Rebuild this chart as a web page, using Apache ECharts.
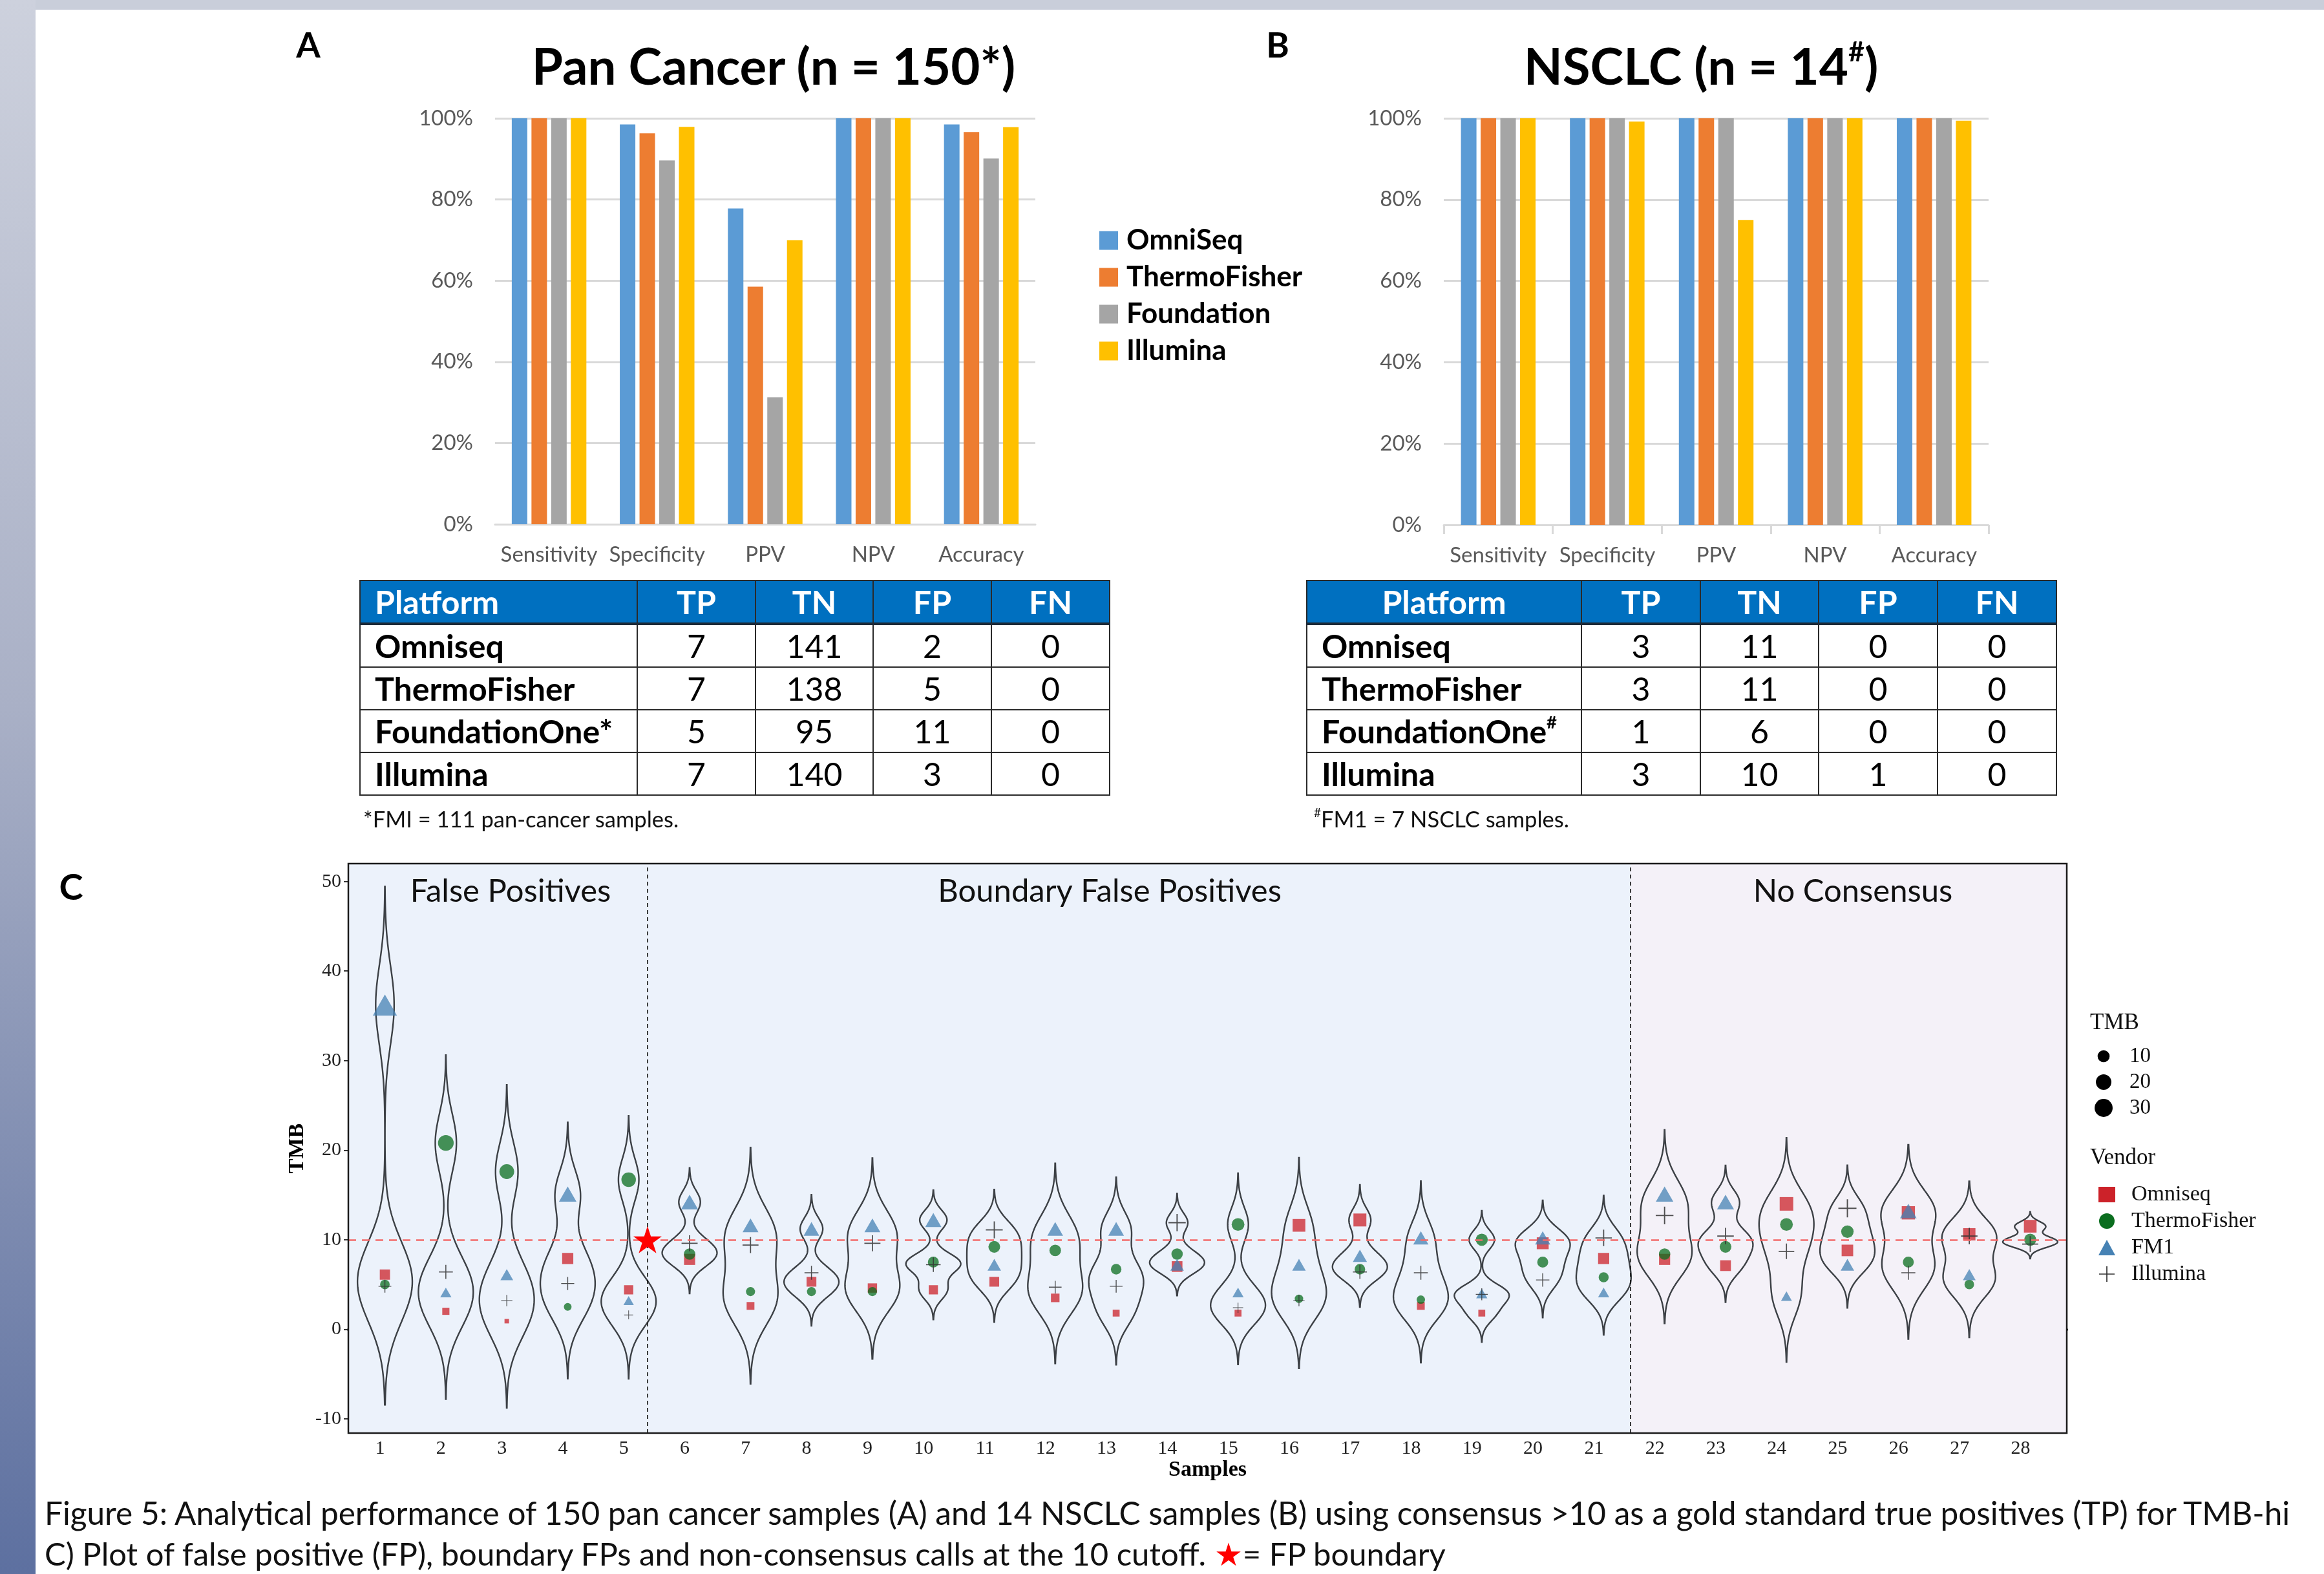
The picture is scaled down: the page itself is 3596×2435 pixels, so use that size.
<!DOCTYPE html>
<html>
<head>
<meta charset="utf-8">
<title>Figure 5</title>
<script src="https://cdn.jsdelivr.net/npm/echarts@6.0.0/dist/echarts.min.js"></script>
<style>
html,body{margin:0;padding:0;background:#fff;width:3596px;height:2435px;overflow:hidden;}
#page{position:relative;width:3596px;height:2435px;overflow:hidden;background:#fff;}
#chart{position:absolute;left:0;top:0;width:3596px;height:2435px;}
.strip-top{position:absolute;left:0;top:0;width:3596px;height:15px;background:#c9ceda;z-index:3;}
.strip-left{position:absolute;left:0;top:0;width:55px;height:2435px;background:linear-gradient(#cdd1dd,#a9b0c6 45%,#5d70a0);z-index:4;}
.txt{position:absolute;white-space:nowrap;color:#000;font-family:Lato,'Open Sans',sans-serif;line-height:1;z-index:5;}
.ctr{transform:translate(-50%,-50%);}
.vmid{transform:translateY(-50%);}
table.t{position:absolute;border-collapse:collapse;table-layout:fixed;font-family:Lato,sans-serif;font-size:50px;color:#000;z-index:5;}
table.t td,table.t th{border:2px solid #2a2a2a;padding:0;height:64px;text-align:center;line-height:1;}
table.t th{background:#0070c0;color:#fff;font-weight:bold;border-bottom:4px solid #1d2a38;}
table.t td.nm{font-weight:bold;text-align:left;padding-left:22px;}
table.t th.nmh{text-align:left;padding-left:22px;}
table.t th.nmc{text-align:center;}
sup{font-size:55%;vertical-align:top;position:relative;top:-0.1em;}
</style>
</head>
<body>
<div id="page">
  <div id="chart"></div>
  <div class="strip-top"></div>
  <div class="strip-left"></div>
  <div class="txt ctr" style="left:477px;top:69px;font-size:54px;font-weight:bold;">A</div>
  <div class="txt ctr" style="left:1977px;top:69px;font-size:54px;font-weight:bold;">B</div>
  <div class="txt ctr" style="left:110px;top:1371px;font-size:56px;font-weight:bold;">C</div>
  <div class="txt ctr" id="titleA" style="left:1197px;top:101px;font-size:78px;font-weight:bold;">Pan Cancer (n = 150*)</div>
  <div class="txt ctr" id="titleB" style="left:2632px;top:101px;font-size:78px;font-weight:bold;">NSCLC (n = 14<sup>#</sup>)</div>
  <table class="t" id="tableA" style="left:556px;top:897px;"></table>
  <table class="t" id="tableB" style="left:2021px;top:897px;"></table>
  <div class="txt vmid" style="left:562px;top:1267px;font-size:34.5px;color:#111;">*FMI = 111 pan-cancer samples.</div>
  <div class="txt vmid" style="left:2033px;top:1267px;font-size:34.5px;color:#111;"><sup>#</sup>FM1 = 7 NSCLC samples.</div>
  <div class="txt vmid" id="cap1" style="left:69px;top:2341px;font-size:49.5px;color:#111;">Figure 5: Analytical performance of 150 pan cancer samples (A) and 14 NSCLC samples (B) using consensus &gt;10 as a gold standard true positives (TP) for TMB-hi</div>
  <div class="txt vmid" id="cap2" style="left:69px;top:2403px;font-size:49px;color:#111;">C) Plot of false positive (FP), boundary FPs and non-consensus calls at the 10 cutoff. <span style="color:#ff0000;">★</span>= FP boundary</div>
</div>
<script>
// ---------- Panels A / B data ----------
const metrics = ['Sensitivity', 'Specificity', 'PPV', 'NPV', 'Accuracy'];
const barVendors = ['OmniSeq', 'ThermoFisher', 'Foundation', 'Illumina'];
const panOmniSeq      = [100, 98.5, 77.8, 100, 98.5];
const panThermoFisher = [100, 96.3, 58.5, 100, 96.6];
const panFoundation   = [100, 89.6, 31.3, 100, 90.1];
const panIllumina     = [100, 97.9, 70.0, 100, 97.8];
const nsclcOmniSeq      = [100, 100, 100, 100, 100];
const nsclcThermoFisher = [100, 100, 100, 100, 100];
const nsclcFoundation   = [100, 100, 100, 100, 100];
const nsclcIllumina     = [100, 99.2, 75.0, 100, 99.4];
const pctTicks = [0, 20, 40, 60, 80, 100];

// ---------- Tables ----------
const tableHeader = ['Platform', 'TP', 'TN', 'FP', 'FN'];
const platformsA = ['Omniseq', 'ThermoFisher', 'FoundationOne*', 'Illumina'];
const tpA = [7, 7, 5, 7];
const tnA = [141, 138, 95, 140];
const fpA = [2, 5, 11, 3];
const fnA = [0, 0, 0, 0];
const platformsB = ['Omniseq', 'ThermoFisher', 'FoundationOne<sup>#</sup>', 'Illumina'];
const tpB = [3, 3, 1, 3];
const tnB = [11, 11, 6, 10];
const fpB = [0, 0, 0, 1];
const fnB = [0, 0, 0, 0];

// ---------- Panel C data ----------
const sampleIds = [1,2,3,4,5,6,7,8,9,10,11,12,13,14,15,16,17,18,19,20,21,22,23,24,25,26,27,28];
const omniseqTMB  = [6.1, 2.0, 0.9, 7.9, 4.4, 7.8, 2.6, 5.3, 4.6, 4.4, 5.3, 3.5, 1.8, 7.0, 1.8, 11.6, 12.2, 2.6, 1.8, 9.6, 7.9, 7.8, 7.1, 14.0, 8.8, 13.0, 10.6, 11.5];
const thermoTMB   = [5.0, 20.8, 17.6, 2.5, 16.7, 8.4, 4.2, 4.2, 4.2, 7.5, 9.2, 8.8, 6.7, 8.4, 11.7, 3.4, 6.7, 3.3, 10.0, 7.5, 5.8, 8.4, 9.2, 11.7, 10.9, 7.5, 5.0, 10.0];
const fm1TMB      = [36.2, 4.1, 6.1, 15.1, 3.2, 14.2, 11.6, 11.2, 11.6, 12.2, 7.2, 11.2, 11.2, 7.2, 4.1, 7.2, 8.2, 10.2, 4.0, 10.2, 4.1, 15.1, 14.2, 3.7, 7.2, 13.2, 6.1, null];
const illuminaTMB = [4.8, 6.4, 3.2, 5.1, 1.6, 9.6, 9.4, 6.3, 9.6, 7.2, 11.1, 4.7, 4.8, 11.9, 2.4, 3.2, 6.4, 6.3, 3.9, 5.5, 10.2, 12.7, 10.4, 8.7, 13.5, 6.3, 10.4, 9.5];
const tmbTicks = [-10, 0, 10, 20, 30, 40, 50];
const tmbCutoff = 10;
const fpBoundaryX = 5.31;
const consensusBoundaryX = 21.44;
const tmbLegendValues = [10, 20, 30];
const sectionNames = ['False Positives', 'Boundary False Positives', 'No Consensus'];
const vendorNames = ['Omniseq', 'ThermoFisher', 'FM1', 'Illumina'];

// ---------- build tables ----------
function buildTable(el, names, cols, widths, centerHeader) {
  let h = '<colgroup>' + widths.map(w => '<col style="width:' + w + 'px">').join('') + '</colgroup>';
  h += '<tr>' + tableHeader.map((t, i) => '<th' + (i === 0 ? (centerHeader ? ' class="nmc"' : ' class="nmh"') : '') + '>' + t + '</th>').join('') + '</tr>';
  names.forEach((n, r) => {
    h += '<tr><td class="nm">' + n + '</td>' + cols.map(c => '<td>' + c[r] + '</td>').join('') + '</tr>';
  });
  el.innerHTML = h;
}
buildTable(document.getElementById('tableA'), platformsA, [tpA, tnA, fpA, fnA], [429, 183, 182, 183, 183], false);
buildTable(document.getElementById('tableB'), platformsB, [tpB, tnB, fpB, fnB], [425, 184, 183, 184, 184], true);

// ---------- violin (gaussian KDE, nrd0 bandwidth, untrimmed) ----------
function bwNrd0(x) {
  const n = x.length, s = [...x].sort((a, b) => a - b);
  const mean = x.reduce((a, b) => a + b, 0) / n;
  const sd = Math.sqrt(x.reduce((a, b) => a + (b - mean) * (b - mean), 0) / (n - 1));
  const q = p => { const h = (n - 1) * p, lo = Math.floor(h); return s[lo] + (h - lo) * (s[Math.min(lo + 1, n - 1)] - s[lo]); };
  let lo = Math.min(sd, (q(0.75) - q(0.25)) / 1.34);
  if (!(lo > 0)) lo = sd || Math.abs(s[0]) || 1;
  return 0.9 * lo * Math.pow(n, -0.2);
}
function violinProfile(vals) {
  const bw = bwNrd0(vals);
  const lo = Math.min(...vals) - 3 * bw, hi = Math.max(...vals) + 3 * bw;
  const N = 160, out = [];
  let maxD = 0;
  for (let i = 0; i < N; i++) {
    const y = lo + (hi - lo) * i / (N - 1);
    let d = 0;
    for (const v of vals) d += Math.exp(-0.5 * ((y - v) / bw) * ((y - v) / bw));
    out.push([y, d]);
    if (d > maxD) maxD = d;
  }
  return out.map(([y, d]) => [y, d / maxD]);
}
const sampleValues = sampleIds.map((s, i) => [omniseqTMB[i], thermoTMB[i], fm1TMB[i], illuminaTMB[i]].filter(v => v != null));
const profiles = sampleValues.map(violinProfile);

// ---------- size scale ----------
const allTMB = sampleValues.flat();
const tmbMin = Math.min(...allTMB), tmbMax = Math.max(...allTMB);
function tmbSize(v) { return 7 + 23 * Math.sqrt(Math.max(0, v - tmbMin) / (tmbMax - tmbMin)); }

const plusPath = 'path://M-0.07,-1L0.07,-1L0.07,-0.07L1,-0.07L1,0.07L0.07,0.07L0.07,1L-0.07,1L-0.07,0.07L-1,0.07L-1,-0.07L-0.07,-0.07Z';
const starPath = 'path://M0,-1L0.2245,-0.309L0.951,-0.309L0.363,0.118L0.588,0.809L0,0.382L-0.588,0.809L-0.363,0.118L-0.951,-0.309L-0.2245,-0.309Z';

const barColors = ['#5b9bd5', '#ed7d31', '#a5a5a5', '#ffc000'];
const panSets = [panOmniSeq, panThermoFisher, panFoundation, panIllumina];
const nsclcSets = [nsclcOmniSeq, nsclcThermoFisher, nsclcFoundation, nsclcIllumina];

const catAxisBase = {
  type: 'category', data: metrics,
  axisLine: { lineStyle: { color: '#d9d9d9', width: 3 } },
  axisLabel: { interval: 0, fontFamily: 'Lato', fontSize: 33, color: '#595959', margin: 31 }
};
const pctAxisBase = {
  type: 'value', min: 0, max: 100, interval: 20,
  axisLine: { show: false }, axisTick: { show: false },
  axisLabel: { formatter: '{value}%', fontFamily: 'Lato', fontSize: 33, color: '#595959', margin: 34 },
  splitLine: { lineStyle: { color: '#d9d9d9', width: 3 } }
};

const series = [];
barVendors.forEach((v, k) => {
  series.push({ type: 'bar', name: v, xAxisIndex: 0, yAxisIndex: 0, data: panSets[k], barWidth: 24, barGap: '27%', itemStyle: { color: barColors[k] } });
});
barVendors.forEach((v, k) => {
  series.push({ type: 'bar', name: v, xAxisIndex: 1, yAxisIndex: 1, data: nsclcSets[k], barWidth: 24, barGap: '27%', itemStyle: { color: barColors[k] } });
});

// backgrounds
series.push({
  type: 'line', name: 'bg', xAxisIndex: 2, yAxisIndex: 2, data: [], z: 0, silent: true,
  markArea: {
    silent: true,
    data: [
      [{ xAxis: 0.4, yAxis: -11.6, itemStyle: { color: '#ecf2fb' } }, { xAxis: consensusBoundaryX, yAxis: 52 }],
      [{ xAxis: consensusBoundaryX, yAxis: -11.6, itemStyle: { color: '#f4f1f8' } }, { xAxis: 28.6, yAxis: 52 }]
    ]
  }
});
// violins
series.push({
  type: 'custom', name: 'violin', xAxisIndex: 2, yAxisIndex: 2, z: 2, silent: true,
  data: sampleIds.map(s => [s, 0]),
  renderItem: function (params, api) {
    const i = params.dataIndex, x = sampleIds[i], prof = profiles[i], pts = [];
    for (let k = 0; k < prof.length; k++) pts.push(api.coord([x + 0.45 * prof[k][1], prof[k][0]]));
    for (let k = prof.length - 1; k >= 0; k--) pts.push(api.coord([x - 0.45 * prof[k][1], prof[k][0]]));
    return { type: 'polygon', shape: { points: pts }, style: { fill: 'none', stroke: '#3c4045', lineWidth: 2.4 } };
  }
});
// reference lines
series.push({
  type: 'line', name: 'refs', xAxisIndex: 2, yAxisIndex: 2, data: [], z: 3, silent: true,
  markLine: {
    silent: true, symbol: 'none', label: { show: false },
    data: [
      { yAxis: tmbCutoff, lineStyle: { color: '#f26b6b', width: 2.5, type: [12, 9] } },
      { xAxis: fpBoundaryX, lineStyle: { color: '#111', width: 1.6, type: [6, 5] } },
      { xAxis: consensusBoundaryX, lineStyle: { color: '#111', width: 1.6, type: [6, 5] } }
    ]
  }
});
const vendorSeries = [
  { name: 'C Omniseq', vals: omniseqTMB, symbol: 'rect', color: '#cc2229', size: v => tmbSize(v) },
  { name: 'C ThermoFisher', vals: thermoTMB, symbol: 'circle', color: '#0b6e1f', size: v => tmbSize(v) },
  { name: 'C FM1', vals: fm1TMB, symbol: 'triangle', color: '#4682b4', size: v => [tmbSize(v) * 1.25, tmbSize(v) * 1.25 * 0.87] },
  { name: 'C Illumina', vals: illuminaTMB, symbol: plusPath, color: '#333333', size: v => tmbSize(v) * 1.35 }
];
vendorSeries.forEach(vs => {
  series.push({
    type: 'scatter', name: vs.name, xAxisIndex: 2, yAxisIndex: 2, z: 4, symbol: vs.symbol,
    data: sampleIds.map((s, i) => [s, vs.vals[i]]).filter(d => d[1] != null),
    symbolSize: d => vs.size(d[1]),
    itemStyle: { color: vs.color, opacity: vs.name === 'C Illumina' ? 0.85 : 0.75 }
  });
});
series.push({
  type: 'scatter', name: 'FP boundary', xAxisIndex: 2, yAxisIndex: 2, z: 6, symbol: starPath,
  symbolSize: [44, 42], data: [[fpBoundaryX, tmbCutoff]], itemStyle: { color: '#ff0000', opacity: 1 }
});

const graphics = [
  { type: 'text', x: 790, y: 1379, z: 20, style: { text: sectionNames[0], font: '49px Lato', fill: '#111', align: 'center', verticalAlign: 'middle' } },
  { type: 'text', x: 1717, y: 1379, z: 20, style: { text: sectionNames[1], font: '49px Lato', fill: '#111', align: 'center', verticalAlign: 'middle' } },
  { type: 'text', x: 2867, y: 1379, z: 20, style: { text: sectionNames[2], font: '49px Lato', fill: '#111', align: 'center', verticalAlign: 'middle' } },
  { type: 'rect', z: 20, silent: true, shape: { x: 539, y: 1336, width: 2659, height: 881 }, style: { fill: 'none', stroke: '#1a1a1a', lineWidth: 2.5 } },
  { type: 'text', x: 3234, y: 1583, z: 20, style: { text: 'TMB', font: '35px "Liberation Serif"', fill: '#111', align: 'left', verticalAlign: 'middle' } },
  { type: 'text', x: 3234, y: 1792, z: 20, style: { text: 'Vendor', font: '35px "Liberation Serif"', fill: '#111', align: 'left', verticalAlign: 'middle' } }
];
tmbLegendValues.forEach((v, k) => {
  const cy = 1634 + k * 40;
  graphics.push({ type: 'circle', z: 20, shape: { cx: 3255, cy: cy, r: tmbSize(v) / 2 }, style: { fill: '#000' } });
  graphics.push({ type: 'text', x: 3295, y: cy, z: 20, style: { text: String(v), font: '33px "Liberation Serif"', fill: '#111', align: 'left', verticalAlign: 'middle' } });
});

const option = {
  animation: false,
  backgroundColor: '#ffffff',
  grid: [
    { left: 766, top: 183, width: 836, height: 628 },
    { left: 2234, top: 183, width: 843, height: 629 },
    { left: 539, top: 1336, width: 2659, height: 881 }
  ],
  xAxis: [
    Object.assign({}, catAxisBase, { gridIndex: 0, axisTick: { show: false } }),
    Object.assign({}, catAxisBase, { gridIndex: 1, axisTick: { show: true, length: 14, lineStyle: { color: '#d9d9d9', width: 3 } } }),
    {
      type: 'value', gridIndex: 2, min: 0.4, max: 28.6, splitLine: { show: false },
      axisLine: { lineStyle: { color: '#000', width: 4 } },
      axisTick: { customValues: sampleIds, length: 7, lineStyle: { color: '#333', width: 2 } },
      axisLabel: { customValues: sampleIds, fontFamily: 'Liberation Serif', fontSize: 30, color: '#222', margin: 9, align: 'right' },
      name: 'Samples', nameLocation: 'middle', nameGap: 36,
      nameTextStyle: { fontFamily: 'Liberation Serif', fontWeight: 'bold', fontSize: 34, color: '#000' }
    }
  ],
  yAxis: [
    Object.assign({}, pctAxisBase, { gridIndex: 0 }),
    Object.assign({}, pctAxisBase, { gridIndex: 1 }),
    {
      type: 'value', gridIndex: 2, min: -11.6, max: 52, splitLine: { show: false },
      axisLine: { show: true, lineStyle: { color: '#666', width: 2 } },
      axisTick: { show: true, customValues: tmbTicks, length: 7, lineStyle: { color: '#333', width: 2 } },
      axisLabel: { customValues: tmbTicks, fontFamily: 'Liberation Serif', fontSize: 30, color: '#222', margin: 11 },
      name: 'TMB', nameLocation: 'middle', nameGap: 58, nameRotate: 90,
      nameTextStyle: { fontFamily: 'Liberation Serif', fontWeight: 'bold', fontSize: 34, color: '#000' }
    }
  ],
  legend: [
    {
      data: barVendors, orient: 'vertical', left: 1696, top: 345, itemWidth: 29, itemHeight: 29, itemGap: 13,
      icon: 'rect', selectedMode: false,
      textStyle: { fontFamily: 'Lato', fontWeight: 'bold', fontSize: 44, color: '#000', padding: [0, 0, 0, 8] }
    },
    {
      data: vendorSeries.map(vs => ({ name: vs.name, itemStyle: { opacity: 1 } })),
      orient: 'vertical', left: 3242, top: 1826, itemWidth: 26, itemHeight: 24, itemGap: 7, selectedMode: false,
      formatter: n => n.replace(/^C /, ''),
      textStyle: { fontFamily: 'Liberation Serif', fontSize: 34, color: '#111', lineHeight: 33, padding: [0, 0, 0, 20] }
    }
  ],
  graphic: graphics,
  series: series
};

const chart = echarts.init(document.getElementById('chart'), null, { renderer: 'canvas', width: 3596, height: 2435 });
chart.setOption(option);
</script>
</body>
</html>
